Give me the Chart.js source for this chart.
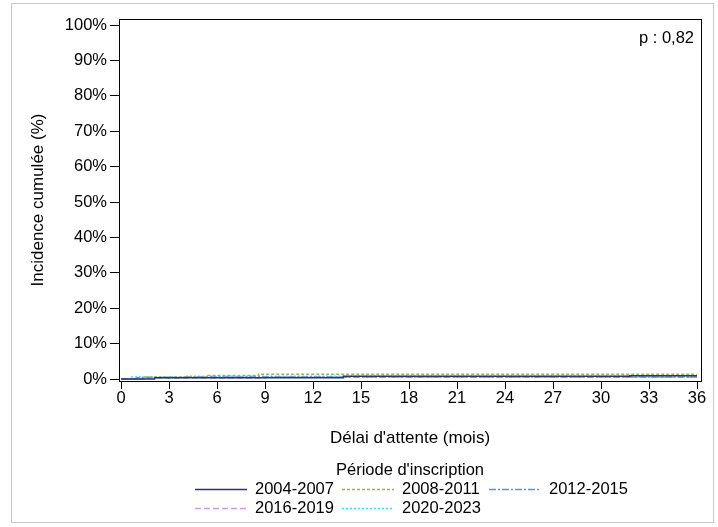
<!DOCTYPE html>
<html>
<head>
<meta charset="utf-8">
<script src="https://cdn.jsdelivr.net/npm/chart.js@4.4.0/dist/chart.umd.min.js"></script>
<style>
  html, body { margin: 0; padding: 0; background: #fff; }
  #wrap { width: 718px; height: 527px; }
</style>
</head>
<body>
<div id="wrap"><canvas id="chart" width="718" height="527"></canvas></div>
<script>
// periods and step curves (months, cumulative incidence %)
var periods = ['2004-2007', '2008-2011', '2012-2015', '2016-2019', '2020-2023'];
var months2004 = [0, 2.1, 13.9, 31.8, 36];
var values2004 = [0, 0.35, 0.75, 0.95, 0.95];
var months2008 = [0, 1.5, 5.4, 8.6, 36];
var values2008 = [0, 0.6, 1.0, 1.35, 1.35];
var months2012 = [0, 1.0, 4.0, 36];
var values2012 = [0, 0.4, 0.6, 0.6];
var months2016 = [0, 1.5, 9.0, 36];
var values2016 = [0, 0.3, 0.5, 0.5];
var months2020 = [0, 0.6, 4.0, 36];
var values2020 = [0, 0.6, 0.8, 0.8];
var xTicks = [0, 3, 6, 9, 12, 15, 18, 21, 24, 27, 30, 33, 36];
var yTicks = [0, 10, 20, 30, 40, 50, 60, 70, 80, 90, 100];
var pValue = 'p : 0,82';

var colors = ['#2e2e86', '#9ab84a', '#5b8ff5', '#c49bf5', '#22f0f0'];
var dashes = [[], [3, 2], [7, 2, 2, 2], [6, 3], [2, 2]];

function pts(xs, ys) {
    return xs.map(function (x, i) { return { x: x, y: ys[i] }; });
}
var series = [
    pts(months2004, values2004),
    pts(months2008, values2008),
    pts(months2012, values2012),
    pts(months2016, values2016),
    pts(months2020, values2020)
];

var FONT = '"Liberation Sans", Arial, sans-serif';
var FS = 16.5;
Chart.defaults.font.family = FONT;
Chart.defaults.color = '#000';

var framePlugin = {
    id: 'frame',
    beforeDraw: function (c) {
        var ctx = c.ctx;
        ctx.save();
        ctx.fillStyle = '#fff';
        ctx.fillRect(0, 0, c.width, c.height);
        ctx.strokeStyle = '#c8c8c8';
        ctx.lineWidth = 1;
        ctx.strokeRect(11.5, 3.5, 702, 519);
        ctx.restore();
    },
    afterDraw: function (c) {
        var ctx = c.ctx, a = c.chartArea;
        ctx.save();
        ctx.strokeStyle = '#000';
        ctx.lineWidth = 1;
        ctx.strokeRect(Math.round(a.left) + 0.5, Math.round(a.top) + 0.5,
            Math.round(a.right - a.left), Math.round(a.bottom - a.top));
        ctx.fillStyle = '#000';
        ctx.font = FS + 'px ' + FONT;
        ctx.textAlign = 'right';
        ctx.textBaseline = 'middle';
        ctx.fillText(pValue, a.right - 7, a.top + 19);

        // legend
        ctx.textAlign = 'center';
        ctx.fillText("Période d'inscription", 410, 470);
        var colX = [195, 342, 489];
        var rowY = [489, 508];
        c.data.datasets.forEach(function (ds, i) {
            var x = colX[i % 3], y = rowY[Math.floor(i / 3)];
            ctx.strokeStyle = ds.borderColor;
            ctx.lineWidth = 1.5;
            ctx.setLineDash(ds.borderDash);
            ctx.beginPath();
            ctx.moveTo(x, y + 0.5);
            ctx.lineTo(x + 52, y + 0.5);
            ctx.stroke();
            ctx.setLineDash([]);
            ctx.textAlign = 'left';
            ctx.fillText(ds.label, x + 60, y);
        });
        ctx.restore();
    }
};

var ctx = document.getElementById('chart').getContext('2d');
var chart = new Chart(ctx, {
    type: 'line',
    data: {
        datasets: periods.map(function (p, i) {
            return {
                label: p,
                data: series[i],
                borderColor: colors[i],
                borderDash: dashes[i],
                borderWidth: 1.5,
                pointRadius: 0,
                stepped: true,
                fill: false
            };
        })
    },
    options: {
        responsive: false,
        animation: false,
        layout: { padding: { left: 24, top: 19, right: 17, bottom: 74 } },
        plugins: { legend: { display: false }, tooltip: { enabled: false } },
        scales: {
            x: {
                type: 'linear',
                min: -0.125,
                max: 36.25,
                afterBuildTicks: function (s) { s.ticks = xTicks.map(function (v) { return { value: v }; }); },
                afterFit: function (s) { s.height = 72; },
                grid: { drawOnChartArea: false, color: '#000', tickLength: 8 },
                border: { color: '#000' },
                ticks: { color: '#000', font: { size: FS }, padding: 0, maxRotation: 0 },
                title: { display: true, text: "Délai d'attente (mois)", color: '#000', font: { size: 17 }, padding: { top: 4, bottom: 4 } }
            },
            y: {
                min: -0.56,
                max: 101.7,
                afterBuildTicks: function (s) { s.ticks = yTicks.map(function (v) { return { value: v }; }); },
                afterFit: function (s) { s.width = 95; },
                grid: { drawOnChartArea: false, color: '#000', tickLength: 9 },
                border: { color: '#000' },
                ticks: { color: '#000', font: { size: FS }, padding: 3, callback: function (v) { return v + '%'; } },
                title: { display: true, text: 'Incidence cumulée (%)', color: '#000', font: { size: 17 }, padding: { top: 4, bottom: 4 } }
            }
        }
    },
    plugins: [framePlugin]
});
</script>
</body>
</html>
